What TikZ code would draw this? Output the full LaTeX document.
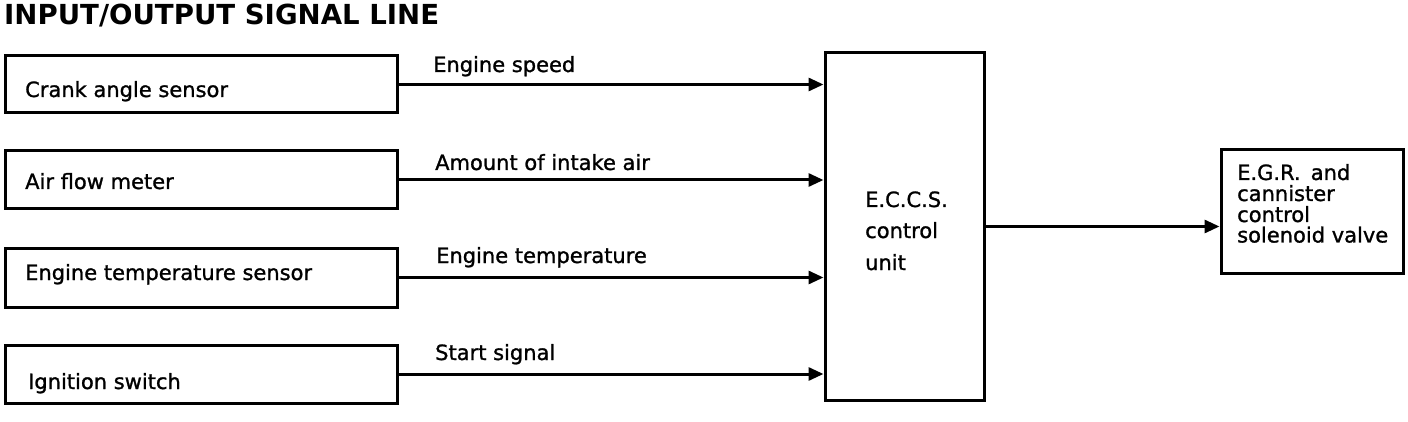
\documentclass[tikz,border=0pt]{standalone}
\usepackage{fontspec}
\setmainfont{DejaVu Sans}
\newfontfamily\heavyfont{DejaVu Sans}[FakeBold=1.2]
\usetikzlibrary{arrows.meta}
\begin{document}
\begin{tikzpicture}[x=1pt,y=-1pt,
  boxnode/.style={draw, line width=3pt, minimum width=#1, inner sep=0pt},
  txt/.style={anchor=base west, inner sep=0pt, font=\heavyfont\fontsize{21}{21}\selectfont},
  sig/.style={line width=3pt, -{Triangle[length=15pt,width=13pt]}}]
\useasboundingbox (0,0) rectangle (1408,422);
\node[anchor=base west, inner sep=0pt, font=\fontsize{27.6}{28}\selectfont\bfseries] (title) at (4,25) {INPUT/OUTPUT SIGNAL LINE};
% input boxes
\node[boxnode=392, minimum height=57] (b1) at (201,84.5) {};
\node[boxnode=392, minimum height=58] (b2) at (201,180) {};
\node[boxnode=392, minimum height=59] (b3) at (201,277.5) {};
\node[boxnode=392, minimum height=58] (b4) at (201,374) {};
\node[txt] (t1) at (25,97) {Crank angle sensor};
\node[txt] (t2) at (25,189) {Air flow meter};
\node[txt] (t3) at (25,280) {Engine temperature sensor};
\node[txt] (t4) at (28,389) {Ignition switch};
% control unit
\node[boxnode=159, minimum height=347] (ecu) at (904.5,226.5) {};
\node[txt] (e1) at (865,207) {E.C.C.S.};
\node[txt] (e2) at (865,238) {control};
\node[txt] (e3) at (865,270) {unit};
% output box
\node[boxnode=182, minimum height=123] (egr) at (1312,211.5) {};
\node[txt] (g1) at (1237,180) {E.G.R.\, and};
\node[txt] (g2) at (1237,201) {cannister};
\node[txt] (g3) at (1237,222) {control};
\node[txt] (g4) at (1237,242.5) {solenoid valve};
% signals
\draw[sig] (b1.east) -- (ecu.west |- b1.east);
\draw[sig] (b2.east) -- (ecu.west |- b2.east);
\draw[sig] (b3.east) -- (ecu.west |- b3.east);
\draw[sig] (b4.east) -- (ecu.west |- b4.east);
\draw[sig] (ecu.east) -- (egr.west |- ecu.east);
\node[txt] (l1) at (433,72) {Engine speed};
\node[txt] (l2) at (435,170) {Amount of intake air};
\node[txt] (l3) at (436,263) {Engine temperature};
\node[txt] (l4) at (435,360) {Start signal};
\end{tikzpicture}
\end{document}
